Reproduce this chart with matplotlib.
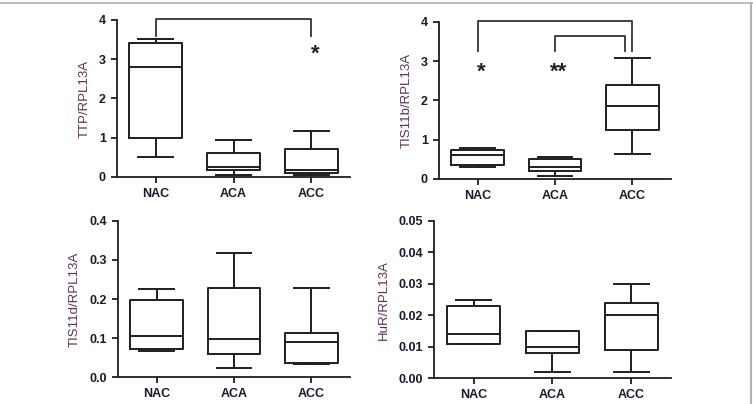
import numpy as np
import matplotlib as mpl
import matplotlib.pyplot as plt
from matplotlib.lines import Line2D

groups = ['NAC', 'ACA', 'ACC']

# box stats per group: [whisker low, q1, median, q3, whisker high]
ttp = [[0.50, 1.00, 2.80, 3.42, 3.52],
       [0.05, 0.18, 0.26, 0.60, 0.93],
       [0.04, 0.10, 0.18, 0.72, 1.18]]
tis11b = [[0.30, 0.35, 0.60, 0.75, 0.80],
          [0.08, 0.20, 0.30, 0.50, 0.55],
          [0.63, 1.25, 1.87, 2.40, 3.08]]
tis11d = [[0.067, 0.073, 0.104, 0.197, 0.225],
          [0.022, 0.058, 0.097, 0.228, 0.317],
          [0.033, 0.036, 0.089, 0.114, 0.228]]
hur = [[0.011, 0.011, 0.014, 0.023, 0.025],
       [0.002, 0.008, 0.010, 0.015, 0.015],
       [0.002, 0.009, 0.020, 0.024, 0.030]]

labels = ['TTP/RPL13A', 'TIS11b/RPL13A', 'TIS11d/RPL13A', 'HuR/RPL13A']
yticks = [[0, 1, 2, 3, 4], [0, 1, 2, 3, 4],
          [0.0, 0.1, 0.2, 0.3, 0.4], [0.00, 0.01, 0.02, 0.03, 0.04, 0.05]]
ytick_labels = [['0', '1', '2', '3', '4'], ['0', '1', '2', '3', '4'],
                ['0.0', '0.1', '0.2', '0.3', '0.4'],
                ['0.00', '0.01', '0.02', '0.03', '0.04', '0.05']]

mpl.rcParams['font.family'] = 'Liberation Sans'
mpl.rcParams['axes.linewidth'] = 1.3

fig = plt.figure(figsize=(7.53, 4.04), dpi=100)
rects = [[0.1554, 0.5619, 0.3094, 0.3886],
         [0.5830, 0.5570, 0.3080, 0.3886],
         [0.1567, 0.0668, 0.3081, 0.3862],
         [0.5764, 0.0640, 0.3146, 0.3890]]
data = [ttp, tis11b, tis11d, hur]

axes = []
for i in range(4):
    ax = fig.add_axes(rects[i])
    stats = []
    for g, s in zip(groups, data[i]):
        stats.append(dict(label=g, whislo=s[0], q1=s[1], med=s[2], q3=s[3], whishi=s[4], fliers=[]))
    ax.bxp(stats, positions=[1, 2, 3], widths=0.68, showfliers=False,
           boxprops=dict(color='#1e1e1e', linewidth=1.4),
           medianprops=dict(color='#1e1e1e', linewidth=1.4),
           whiskerprops=dict(color='#1e1e1e', linewidth=1.4),
           capprops=dict(color='#1e1e1e', linewidth=1.4),
           capwidths=0.45)
    ax.set_xlim(0.5, 3.5)
    ax.set_ylim(yticks[i][0], yticks[i][-1])
    ax.set_yticks(yticks[i])
    ax.set_yticklabels(ytick_labels[i])
    ax.spines['top'].set_visible(False)
    ax.spines['right'].set_visible(False)
    ax.spines['left'].set_color('#1e1e1e')
    ax.spines['bottom'].set_color('#1e1e1e')
    ax.tick_params(direction='out', length=4.5, width=1.3, color='#1e1e1e')
    for t in ax.get_xticklabels() + ax.get_yticklabels():
        t.set_fontweight('bold')
        t.set_fontsize(9)
        t.set_color('#1a1a2a')
    ax.set_ylabel(labels[i], fontsize=9.5, color='#5c3355', labelpad=6)
    axes.append(ax)

lk = dict(color='#333333', linewidth=1.3, clip_on=False)
# TTP bracket
ax = axes[0]
ax.plot([1, 1, 3, 3], [3.6, 4.02, 4.02, 3.6], **lk)
ax.text(3.05, 3.12, '*', fontsize=16, fontweight='bold', ha='center', va='center', color='#222222')
# TIS11b brackets
ax = axes[1]
ax.plot([1, 1, 3, 3], [3.25, 4.03, 4.03, 3.25], **lk)
ax.plot([2, 2, 2.9, 2.9], [3.25, 3.65, 3.65, 3.25], **lk)
ax.text(1.05, 2.72, '*', fontsize=16, fontweight='bold', ha='center', va='center', color='#222222')
ax.text(2.05, 2.72, '**', fontsize=16, fontweight='bold', ha='center', va='center', color='#222222')

# light frame lines (top and right)
fig.add_artist(Line2D([0, 1], [0.9925, 0.9925], color='#b0b0b0', linewidth=1.2, transform=fig.transFigure))
fig.add_artist(Line2D([0.9975, 0.9975], [0, 0.9925], color='#b0b0b0', linewidth=1.5, transform=fig.transFigure))

fig.savefig('out.png', dpi=100)
